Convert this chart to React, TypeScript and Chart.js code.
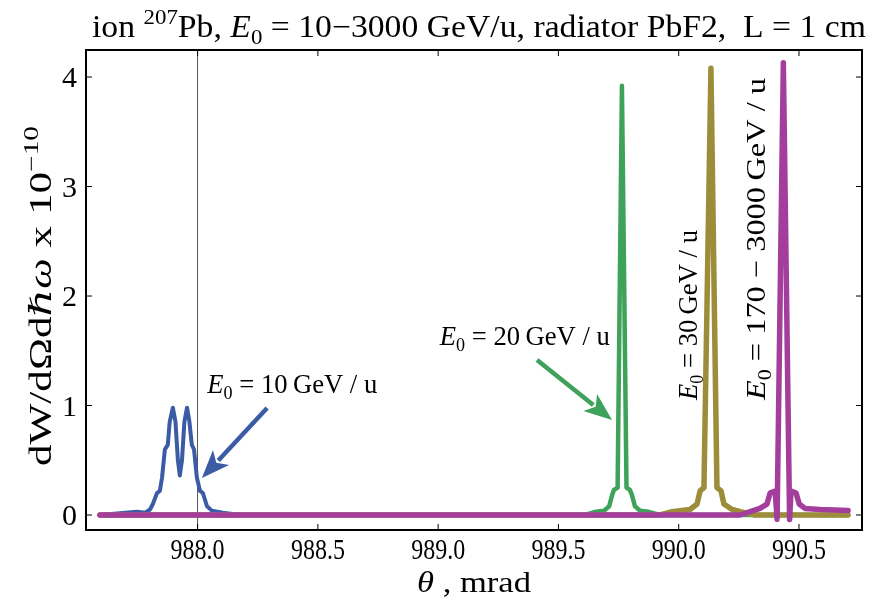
import React, { useEffect, useRef } from 'react';
import { Chart, registerables } from 'chart.js';

Chart.register(...registerables);

// ---------- data (theta in mrad, spectral density x 1e-10) ----------
const thetaE10 = [987.594, 987.748, 987.781, 987.802, 987.814, 987.831, 987.843, 987.852, 987.864, 987.876, 987.884, 987.897, 987.908, 987.918, 987.926, 987.935, 987.945, 987.956, 987.966, 987.976, 987.985, 987.997, 988.010, 988.022, 988.039, 988.059, 988.105, 988.176, 990.704];
const valueE10 = [0, 0.03, 0.02, 0.05, 0.1, 0.2, 0.22, 0.34, 0.6, 0.64, 0.85, 0.98, 0.85, 0.5, 0.36, 0.5, 0.85, 0.98, 0.85, 0.64, 0.6, 0.34, 0.22, 0.2, 0.08, 0.04, 0.02, 0, 0];

const thetaE20 = [987.594, 989.611, 989.656, 989.690, 989.711, 989.723, 989.731, 989.746, 989.764, 989.783, 989.797, 989.806, 989.818, 989.839, 989.872, 989.922, 990.704];
const valueE20 = [0, 0, 0.03, 0.04, 0.08, 0.18, 0.23, 0.25, 3.92, 0.25, 0.23, 0.18, 0.08, 0.04, 0.03, 0, 0];

const thetaE30 = [987.594, 989.922, 989.972, 990.047, 990.076, 990.089, 990.105, 990.134, 990.159, 990.176, 990.188, 990.222, 990.276, 990.317, 990.704];
const valueE30 = [0, 0, 0.03, 0.05, 0.1, 0.22, 0.25, 4.08, 0.25, 0.22, 0.1, 0.05, 0.02, 0, 0];

const thetaE170 = [987.594, 990.255, 990.297, 990.338, 990.367, 990.380, 990.401, 990.409, 990.435, 990.461, 990.467, 990.488, 990.501, 990.525, 990.588, 990.704];
const valueE170 = [0, 0, 0.03, 0.06, 0.1, 0.2, 0.22, -0.04, 4.13, -0.04, 0.22, 0.2, 0.1, 0.06, 0.05, 0.04];

const xTickStep = 0.5;
const yTickStep = 1;
const xMin = 987.536;
const xMax = 990.762;
const yMin = -0.137;
const yMax = 4.247;

// annotation anchors in data coordinates
const note10 = { theta: 988.04, value: 1.114 };
const note20 = { theta: 989.007, value: 1.553 };
const note30 = { theta: 990.077, value: 1.05 };
const note170 = { theta: 990.36, value: 1.05 };
const arrow10 = { from: [988.289, 0.977], to: [988.018, 0.338] };
const arrow20 = { from: [989.411, 1.415], to: [989.723, 0.868] };

const BLUE = '#3b5ba5';
const GREEN = '#3fa25a';
const OLIVE = '#9d8d3a';
const MAGENTA = '#a43e9d';

const SERIF = "'Liberation Serif', 'Times New Roman', 'DejaVu Serif', serif";

type Part = { t: string; i?: boolean; sub?: boolean; sup?: boolean };

function fontFor(p: Part, size: number) {
  const s = p.sub || p.sup ? size * 0.68 : size;
  return `${p.i ? 'italic ' : ''}${s}px ${SERIF}`;
}

function drawRich(
  ctx: CanvasRenderingContext2D,
  parts: Part[],
  x: number,
  y: number,
  size: number,
  align: 'left' | 'center' | 'right',
  rot = 0,
  width?: number,
  sy = 1
) {
  ctx.save();
  let W = 0;
  const ws = parts.map((p) => {
    ctx.font = fontFor(p, size);
    const w = ctx.measureText(p.t).width;
    W += w;
    return w;
  });
  const sx = width ? width / W : 1;
  ctx.translate(x, y);
  if (rot) ctx.rotate(rot);
  ctx.scale(sx, sy);
  let cx = align === 'left' ? 0 : align === 'center' ? -W / 2 : -W;
  ctx.textBaseline = 'alphabetic';
  ctx.textAlign = 'left';
  ctx.fillStyle = '#000';
  parts.forEach((p, k) => {
    ctx.font = fontFor(p, size);
    const dy = p.sub ? size * 0.22 : p.sup ? -size * 0.42 : 0;
    ctx.fillText(p.t, cx, dy);
    cx += ws[k];
  });
  ctx.restore();
}

function drawArrow(ctx: CanvasRenderingContext2D, x1: number, y1: number, x2: number, y2: number, color: string) {
  const lw = 4.5;
  const headLen = 28;
  const headW = 11;
  const ang = Math.atan2(y2 - y1, x2 - x1);
  const bx = x2 - headLen * Math.cos(ang);
  const by = y2 - headLen * Math.sin(ang);
  ctx.save();
  ctx.strokeStyle = color;
  ctx.fillStyle = color;
  ctx.lineWidth = lw;
  ctx.lineCap = 'butt';
  ctx.beginPath();
  ctx.moveTo(x1, y1);
  ctx.lineTo(bx + 4 * Math.cos(ang), by + 4 * Math.sin(ang));
  ctx.stroke();
  ctx.beginPath();
  ctx.moveTo(x2, y2);
  ctx.lineTo(bx + headW * Math.sin(ang), by - headW * Math.cos(ang));
  ctx.lineTo(bx + 7 * Math.cos(ang), by + 7 * Math.sin(ang));
  ctx.lineTo(bx - headW * Math.sin(ang), by + headW * Math.cos(ang));
  ctx.closePath();
  ctx.fill();
  ctx.restore();
}

const framePlugin = {
  id: 'framePlugin',
  afterDraw(chart: any) {
    const ctx: CanvasRenderingContext2D = chart.ctx;
    const { left, right, top, bottom } = chart.chartArea;
    const xs = chart.scales.x;
    const ys = chart.scales.y;

    // annotations
    const ax = (t: number) => xs.getPixelForValue(t);
    const ay = (v: number) => ys.getPixelForValue(v);
    drawArrow(ctx, ax(arrow10.from[0]), ay(arrow10.from[1]), ax(arrow10.to[0]), ay(arrow10.to[1]), BLUE);
    drawArrow(ctx, ax(arrow20.from[0]), ay(arrow20.from[1]), ax(arrow20.to[0]), ay(arrow20.to[1]), GREEN);
    drawRich(ctx, [{ t: 'E', i: true }, { t: '0', sub: true }, { t: ' = 10\u2009GeV / u' }], ax(note10.theta), ay(note10.value), 27, 'left', 0, 170);
    drawRich(ctx, [{ t: 'E', i: true }, { t: '0', sub: true }, { t: ' = 20\u2009GeV / u' }], ax(note20.theta), ay(note20.value), 27, 'left', 0, 170);
    drawRich(ctx, [{ t: 'E', i: true }, { t: '0', sub: true }, { t: ' = 30\u2009GeV / u' }], ax(note30.theta), ay(note30.value), 27, 'left', -Math.PI / 2, 170);
    drawRich(ctx, [{ t: 'E', i: true }, { t: '0', sub: true }, { t: ' = 170 \u2212 3000\u2009GeV / u' }], ax(note170.theta), ay(note170.value), 27, 'left', -Math.PI / 2, 322);

    // frame
    ctx.save();
    ctx.strokeStyle = '#000';
    ctx.lineWidth = 2;
    ctx.strokeRect(left, top, right - left, bottom - top);
    ctx.lineWidth = 1;
    ctx.beginPath();
    xs.ticks.forEach((t: any) => {
      const px = xs.getPixelForValue(t.value);
      ctx.moveTo(px, bottom);
      ctx.lineTo(px, bottom - 6);
      ctx.moveTo(px, top);
      ctx.lineTo(px, top + 6);
    });
    ys.ticks.forEach((t: any) => {
      const py = ys.getPixelForValue(t.value);
      ctx.moveTo(left, py);
      ctx.lineTo(left + 6, py);
      ctx.moveTo(right, py);
      ctx.lineTo(right - 6, py);
    });
    ctx.stroke();
    ctx.restore();

    // tick labels
    xs.ticks.forEach((t: any) => {
      const px = xs.getPixelForValue(t.value);
      drawRich(ctx, [{ t: Number(t.value).toFixed(1) }], px, bottom + 29, 30, 'center', 0, 54);
    });
    ys.ticks.forEach((t: any) => {
      const py = ys.getPixelForValue(t.value);
      drawRich(ctx, [{ t: String(t.value) }], left - 9, py + 10, 30, 'right');
    });

    // axis titles
    drawRich(ctx, [{ t: '\u03b8', i: true }, { t: ' , mrad' }], (left + right) / 2, 592, 30, 'center', 0, 114);
    drawRich(
      ctx,
      [{ t: 'dW/d\u03a9d' }, { t: '\u210f\u03c9', i: true }, { t: ' x 10' }, { t: '\u221210', sup: true }],
      51,
      296,
      34,
      'center',
      -Math.PI / 2,
      340,
      0.9
    );

    // title
    drawRich(
      ctx,
      [
        { t: 'ion ' },
        { t: '207', sup: true },
        { t: 'Pb, ' },
        { t: 'E', i: true },
        { t: '0', sub: true },
        { t: ' = 10\u22123000 GeV/u, radiator PbF2,  L = 1 cm' },
      ],
      92,
      37,
      31,
      'left',
      0,
      774
    );
  },
};

function series(label: string, xs: number[], ys: number[], color: string, width: number, order: number) {
  return {
    label,
    data: xs.map((x, k) => ({ x, y: ys[k] })),
    borderColor: color,
    backgroundColor: color,
    borderWidth: width,
    pointRadius: 0,
    tension: 0,
    fill: false,
    order,
  };
}

export default function App() {
  const ref = useRef<HTMLCanvasElement | null>(null);
  useEffect(() => {
    if (!ref.current) return;
    const chart = new Chart(ref.current, {
      type: 'line',
      data: {
        datasets: [
          series('E0 = 170-3000 GeV/u', thetaE170, valueE170, MAGENTA, 5.5, 0),
          series('E0 = 30 GeV/u', thetaE30, valueE30, OLIVE, 5.5, 1),
          series('E0 = 20 GeV/u', thetaE20, valueE20, GREEN, 4.5, 2),
          series('E0 = 10 GeV/u', thetaE10, valueE10, BLUE, 4, 3),
        ] as any,
      },
      options: {
        animation: false,
        responsive: false,
        maintainAspectRatio: false,
        layout: { padding: { top: 50, right: 18, left: 0, bottom: 0 } },
        elements: { line: { borderJoinStyle: 'round', borderCapStyle: 'round' } },
        plugins: { legend: { display: false }, tooltip: { enabled: false }, title: { display: false } },
        scales: {
          x: {
            type: 'linear',
            min: xMin,
            max: xMax,
            ticks: { display: false, stepSize: xTickStep, includeBounds: false },
            grid: {
              drawTicks: false,
              lineWidth: 1,
              color: (c: any) => (c.tick && Math.abs(c.tick.value - 988) < 1e-6 ? 'rgba(70,70,70,0.9)' : 'rgba(0,0,0,0)'),
            },
            border: { display: false },
            afterFit: (s: any) => {
              s.height = 78;
            },
          },
          y: {
            type: 'linear',
            min: yMin,
            max: yMax,
            ticks: { display: false, stepSize: yTickStep, includeBounds: false },
            grid: { display: false, drawTicks: false },
            border: { display: false },
            afterFit: (s: any) => {
              s.width = 86;
            },
          },
        },
      } as any,
      plugins: [framePlugin],
    });
    return () => chart.destroy();
  }, []);
  return (
    <div style={{ position: 'absolute', left: 0, top: 0, width: 880, height: 608, background: '#fff' }}>
      <canvas ref={ref} width={880} height={608} style={{ display: 'block' }} />
    </div>
  );
}
